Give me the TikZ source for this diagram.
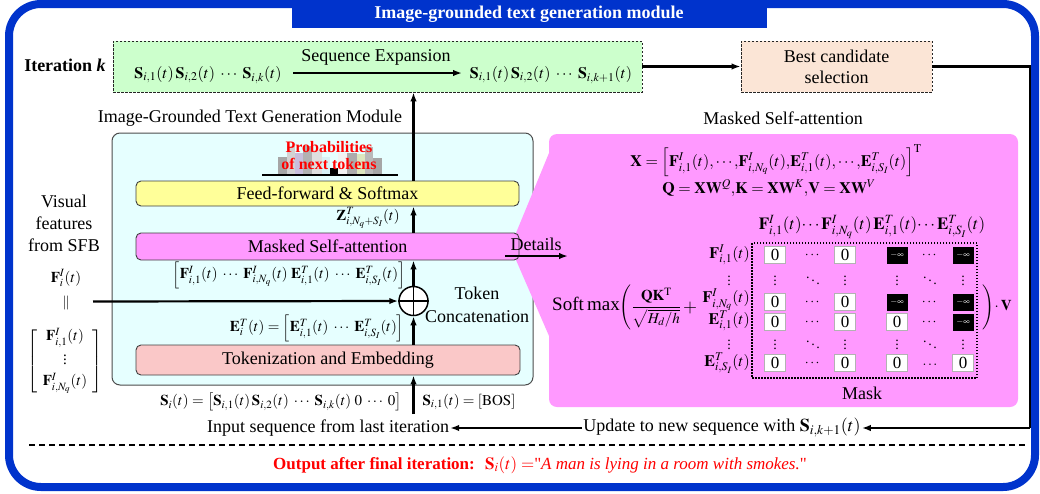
\documentclass[tikz,border=0pt]{standalone}
\usepackage{amsmath}
\usepackage{mathptmx}
\usepackage[no-math]{fontspec}
\setmainfont{Liberation Serif}
\font\qfont="Liberation Serif" at 17pt
\usetikzlibrary{arrows.meta}
\definecolor{bordblue}{RGB}{0,51,204}
\definecolor{seqgreen}{RGB}{204,255,204}
\definecolor{peach}{RGB}{251,229,214}
\definecolor{modcyan}{RGB}{230,255,255}
\definecolor{ffyellow}{RGB}{255,255,153}
\definecolor{attnpink}{RGB}{255,153,255}
\definecolor{tokpink}{RGB}{250,200,200}
\definecolor{barlav}{RGB}{200,190,220}
\definecolor{bargrn}{RGB}{220,230,190}
\definecolor{barcyan}{RGB}{215,240,245}
\begin{document}
\begin{tikzpicture}[x=1pt,y=-1pt,
  every node/.style={font=\fontsize{18}{21}\selectfont, inner sep=1pt},
  mth/.style={font=\fontsize{15}{18}\selectfont},
  mthl/.style={font=\fontsize{16}{16}\selectfont, inner sep=0pt},
  arr/.style={line width=2.2pt, -{Latex[length=9pt,width=6.5pt]}},
  dbox/.style={draw=black!85, line width=0.9pt, dash pattern=on 2.5pt off 1.5pt, inner sep=0pt},
  rbox/.style={draw=black!75, line width=0.9pt, rounded corners=5pt, inner sep=0pt},
  zero/.style={draw=gray!60, fill=white, minimum width=21pt, minimum height=17pt, inner sep=0pt, font=\fontsize{17}{17}\selectfont},
  ninf/.style={fill=black, text=white, minimum width=21pt, minimum height=17pt, inner sep=0pt, font=\fontsize{9}{9}\selectfont},
  dotn/.style={inner sep=0pt, font=\fontsize{14}{14}\selectfont}]
\useasboundingbox (0,0) rectangle (1040,493);
% outer border and title
\draw[bordblue, line width=8pt, rounded corners=32pt] (9,4) rectangle (1035,487);
\fill[bordblue] (292,0) rectangle (767,28);
\node[font=\bfseries\fontsize{18}{20}\selectfont, text=white] (title) at (529,14) {Image-grounded text generation module};
% iteration row
\node[font=\bfseries\fontsize{18}{20}\selectfont] (iter) at (65,65) {Iteration \textit{k}};
\node[dbox, fill=seqgreen, minimum width=529pt, minimum height=51pt] (green) at (377.5,66.5) {};
\node[dbox, fill=peach, minimum width=191pt, minimum height=51pt, align=center] (best) at (836.5,66.5) {Best candidate\\selection};
\node[font=\fontsize{16}{18}\selectfont] (lseq) at (208,75) {$\mathbf{S}_{i,1}(t)\,\mathbf{S}_{i,2}(t)\;\cdots\;\mathbf{S}_{i,k}(t)$};
\node[font=\fontsize{16}{18}\selectfont] (rseq) at (551,75) {$\mathbf{S}_{i,1}(t)\,\mathbf{S}_{i,2}(t)\;\cdots\;\mathbf{S}_{i,k+1}(t)$};
\node (seqexp) at (376,57) {Sequence Expansion};
\coordinate (seA) at (293,73);
\coordinate (seB) at (462,73);
\draw[arr, line width=2pt] (seA) -- (seB);
\draw[arr] (green.east) -- (best.west);
% module
\node (modlabel) at (250,118) {Image-Grounded Text Generation Module};
\node[draw=black!70, line width=1pt, fill=modcyan, rounded corners=8pt, minimum width=421pt, minimum height=252pt, inner sep=0pt] (module) at (322.5,259) {};
% magenta details area
\fill[attnpink, rounded corners=8pt] (549,134) rectangle (1018,407);
\fill[attnpink] (556,136) -- (516,233) -- (516,260) -- (556,352) -- cycle;
\node (msalabel) at (783,118) {Masked Self-attention};
% boxes in module
\node[rbox, fill=ffyellow, minimum width=383pt, minimum height=25pt] (ff) at (327.5,193.5) {Feed-forward \& Softmax};
\node[rbox, fill=attnpink, minimum width=383pt, minimum height=27pt] (masked) at (327.5,246.5) {Masked Self-attention};
\node[rbox, fill=tokpink, minimum width=384pt, minimum height=30pt] (tok) at (328,360) {Tokenization and Embedding};
% probabilities chart
\foreach \a/\b/\t/\c in {278/287/157/gray!70, 287/295/146/gray!35, 295/303/153/barlav, 303/312/146/gray!60, 312/322/150/gray!25, 322/330/157/barcyan, 330/338/168/black, 338/347/153/gray!10, 347/357/153/gray!65, 357/365/154/bargrn, 365/373/147/gray!55, 373/382/158/gray!70}
  \fill[\c] (\a,\t) rectangle (\b,175);
\draw[line width=2pt] (262,175) -- (398,175);
\node[text=red, font=\bfseries\fontsize{16}{16}\selectfont] (prob1) at (329,147) {Probabilities};
\node[text=red, font=\bfseries\fontsize{16}{16}\selectfont] (prob2) at (329,164) {of next tokens};
% concat
\node[circle, draw, line width=1.5pt, fill=white, minimum size=29pt, inner sep=0pt] (plus) at (413.5,301) {};
\draw[line width=1.2pt] (plus.north) -- (plus.south) (plus.west) -- (plus.east);
\node (token) at (477,293) {Token};
\node (concat) at (477,317) {Concatenation};
% equations in module
\node[mth] (zlab) at (368,218) {$\mathbf{Z}^{T}_{i,N_q+S_I}(t)$};
\node[mth] (feq) at (289,275) {$\left[\mathbf{F}^{I}_{i,1}(t)\;\cdots\;\mathbf{F}^{I}_{i,N_q}(t)\;\mathbf{E}^{T}_{i,1}(t)\;\cdots\;\mathbf{E}^{T}_{i,S_I}(t)\right]$};
\node[mth] (eeq) at (317,328) {$\mathbf{E}^{T}_{i}(t)=\left[\mathbf{E}^{T}_{i,1}(t)\;\cdots\;\mathbf{E}^{T}_{i,S_I}(t)\right]$};
\node[mth] (seq) at (281,402) {$\mathbf{S}_{i}(t)=\left[\mathbf{S}_{i,1}(t)\,\mathbf{S}_{i,2}(t)\;\cdots\;\mathbf{S}_{i,k}(t)\;0\;\cdots\;0\right]$};
\node[mth] (bos) at (469,402) {$\mathbf{S}_{i,1}(t)=[\mathrm{BOS}]$};
\node (inp) at (328,428) {Input sequence from last iteration};
\node (upd) at (722,428) {Update to new sequence with $\mathbf{S}_{i,k+1}(t)$};
% left visual features
\node[align=center, font=\fontsize{18}{22}\selectfont] (vis) at (64,223) {Visual\\features\\from SFB};
\node[mth] (fi) at (66,278) {$\mathbf{F}^{I}_{i}(t)$};
\node[font=\fontsize{14}{14}\selectfont] (par) at (66,303) {$\|$};
\node[mth] (fmat) at (65,361) {$\left[\begin{array}{c}\mathbf{F}^{I}_{i,1}(t)\\[3pt] \vdots\\[3pt] \mathbf{F}^{I}_{i,N_q}(t)\end{array}\right]$};
% arrows
\coordinate (hA) at (93,301.5);
\draw[arr] (hA) -- (plus.west);
\coordinate (cIn) at (413.5,414);
\draw[arr] (cIn) -- (cIn |- tok.south);
\draw[arr] (cIn |- tok.north) -- (plus.south);
\draw[arr] (plus.north) -- (plus |- masked.south);
\draw[arr] (plus |- masked.north) -- (plus |- ff.south);
\draw[arr] (plus |- ff.north) -- (plus |- green.south);
\coordinate (cR) at (1030,428);
\draw[line width=2.2pt] (best.east) -| (cR);
\draw[arr] (cR) -- (upd.east);
\draw[arr] (upd.west) -- (inp.east);
% details arrow
\node (det) at (536,244) {Details};
\coordinate (dA) at (505,256);
\coordinate (dB) at (568,256);
\draw[arr, line width=2pt] (dA) -- (dB);
% separator and output
\coordinate (sepA) at (29,445);
\coordinate (sepB) at (1026,445);
\draw[line width=2.5pt, dash pattern=on 6pt off 4pt] (sepA) -- (sepB);
\node[text=red, font=\fontsize{17}{20}\selectfont] (out) at (540,465) {\textbf{Output after final iteration:}\; $\mathbf{S}_{i}(t)=${\qfont\char34}\textit{A man is lying in a room with smokes.}{\qfont\char34}};
% attention details
\node[font=\fontsize{16}{18}\selectfont] (xeq) at (776,161) {$\mathbf{X}=\left[\mathbf{F}^{I}_{i,1}(t)\mathord{,}\cdots\mathord{,}\mathbf{F}^{I}_{i,N_q}(t)\mathord{,}\mathbf{E}^{T}_{i,1}(t)\mathord{,}\cdots\mathord{,}\mathbf{E}^{T}_{i,S_I}(t)\right]^{\mathrm{T}}$};
\node[font=\fontsize{16}{18}\selectfont] (qkv) at (769,188) {$\mathbf{Q}=\mathbf{X}\mathbf{W}^{Q}\mathord{,}\mathbf{K}=\mathbf{X}\mathbf{W}^{K}\mathord{,}\mathbf{V}=\mathbf{X}\mathbf{W}^{V}$};
\node[font=\fontsize{17}{18}\selectfont] (colh) at (872,227) {$\mathbf{F}^{I}_{i,1}(t)\boldsymbol{\cdots}\mathbf{F}^{I}_{i,N_q}(t)\,\mathbf{E}^{T}_{i,1}(t)\boldsymbol{\cdots}\mathbf{E}^{T}_{i,S_I}(t)$};
\node[anchor=west, font=\fontsize{19}{24}\selectfont] (smax) at (551,307) {Soft\,max\fontsize{15}{18}\selectfont$\left(\dfrac{\mathbf{Q}\mathbf{K}^{\mathrm{T}}}{\sqrt{H_d/h}}\right.$};
\node (plussign) at (690,308) {$+$};
\node[anchor=west, font=\fontsize{15}{18}\selectfont] (rpar) at (980,307) {$\left.\vphantom{\dfrac{\mathbf{Q}\mathbf{K}^{\mathrm{T}}}{\sqrt{H_d/h}}}\right)\!\cdot\mathbf{V}$};
\node[draw, line width=1.2pt, dash pattern=on 1.5pt off 1.5pt, minimum width=225pt, minimum height=135pt, inner sep=0pt] (mask) at (864.5,310.5) {};
\node (masklab) at (862,393) {Mask};
% row labels
\node[anchor=east, mthl] (rl1) at (750,255) {$\mathbf{F}^{I}_{i,1}(t)$};
\node[dotn] (rl2) at (729,278) {$\vdots$};
\node[anchor=east, mthl] (rl3) at (750,300) {$\mathbf{F}^{I}_{i,N_q}(t)$};
\node[anchor=east, mthl] (rl4) at (750,321) {$\mathbf{E}^{T}_{i,1}(t)$};
\node[dotn] (rl5) at (729,342) {$\vdots$};
\node[anchor=east, mthl] (rl6) at (750,363) {$\mathbf{E}^{T}_{i,S_I}(t)$};
% mask cells
\node[zero] (m11) at (775,255) {0};
\node[dotn] (m12) at (813,255) {$\cdots$};
\node[zero] (m13) at (845,255) {0};
\node[ninf] (m14) at (897,255) {$-\infty$};
\node[dotn] (m15) at (930,255) {$\cdots$};
\node[ninf] (m16) at (963,255) {$-\infty$};
\node[dotn] (m21) at (775,278) {$\vdots$};
\node[dotn] (m22) at (813,278) {$\ddots$};
\node[dotn] (m23) at (845,278) {$\vdots$};
\node[dotn] (m24) at (897,278) {$\vdots$};
\node[dotn] (m25) at (930,278) {$\ddots$};
\node[dotn] (m26) at (963,278) {$\vdots$};
\node[zero] (m31) at (775,302) {0};
\node[dotn] (m32) at (813,302) {$\cdots$};
\node[zero] (m33) at (845,302) {0};
\node[ninf] (m34) at (897,302) {$-\infty$};
\node[dotn] (m35) at (930,302) {$\cdots$};
\node[ninf] (m36) at (963,302) {$-\infty$};
\node[zero] (m41) at (775,322) {0};
\node[dotn] (m42) at (813,322) {$\cdots$};
\node[zero] (m43) at (845,322) {0};
\node[zero] (m44) at (897,322) {0};
\node[dotn] (m45) at (930,322) {$\cdots$};
\node[ninf] (m46) at (963,322) {$-\infty$};
\node[dotn] (m51) at (775,342) {$\vdots$};
\node[dotn] (m52) at (813,342) {$\ddots$};
\node[dotn] (m53) at (845,342) {$\vdots$};
\node[dotn] (m54) at (897,342) {$\vdots$};
\node[dotn] (m55) at (930,342) {$\ddots$};
\node[dotn] (m56) at (963,342) {$\vdots$};
\node[zero] (m61) at (775,363) {0};
\node[dotn] (m62) at (813,363) {$\cdots$};
\node[zero] (m63) at (845,363) {0};
\node[zero] (m64) at (897,363) {0};
\node[dotn] (m65) at (930,365) {$\ldots$};
\node[zero] (m66) at (963,363) {0};
\end{tikzpicture}
\end{document}
